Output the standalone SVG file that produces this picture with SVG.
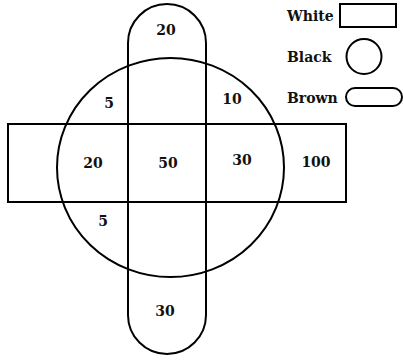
<svg xmlns="http://www.w3.org/2000/svg" width="403" height="362" viewBox="0 0 403 362">
<style>
.s{fill:none;stroke:#000;stroke-width:2}
.t{font-family:"DejaVu Serif","Liberation Serif",serif;font-weight:bold;font-size:14px;fill:#111}
.n{text-anchor:middle}
</style>
<rect x="0" y="0" width="403" height="362" fill="#fff"/>
<g id="white-set"><rect class="s" x="8" y="124" width="338" height="78"/></g>
<g id="black-set"><ellipse class="s" cx="170.5" cy="167.5" rx="113.5" ry="109.5"/></g>
<g id="brown-set"><rect class="s" x="128" y="4" width="78" height="350" rx="39" ry="39"/></g>
<g id="values">
<text class="t n" x="166" y="35">20</text>
<text class="t n" x="109" y="108">5</text>
<text class="t n" x="232" y="104">10</text>
<text class="t n" x="93" y="168">20</text>
<text class="t n" x="168" y="168">50</text>
<text class="t n" x="242" y="165">30</text>
<text class="t n" x="316" y="167">100</text>
<text class="t n" x="103" y="226">5</text>
<text class="t n" x="165" y="316">30</text>
</g>
<g id="legend-white"><text class="t" x="287" y="21">White</text><rect class="s" x="340" y="4" width="56" height="23"/></g>
<g id="legend-black"><text class="t" x="287" y="62">Black</text><ellipse class="s" cx="364" cy="56.5" rx="17.5" ry="17.5"/></g>
<g id="legend-brown"><text class="t" x="287" y="103">Brown</text><rect class="s" x="346" y="88" width="56" height="18" rx="9" ry="9"/></g>
</svg>
